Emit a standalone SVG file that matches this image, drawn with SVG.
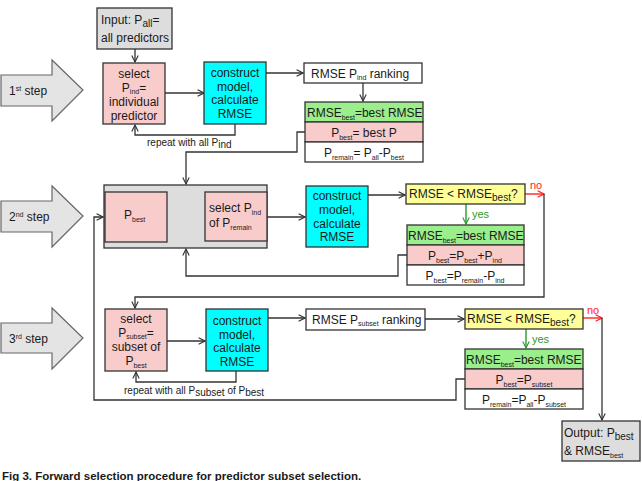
<svg xmlns="http://www.w3.org/2000/svg" width="642" height="481" viewBox="0 0 642 481">
<defs>
<style>
text{font-family:"Liberation Sans",Arial,sans-serif;font-size:12px;fill:#1a1a1a}
.c{text-anchor:middle}
.s{font-size:7px}
.sl{font-size:10px}
.sm{font-size:10px}
.box{stroke:#333;stroke-width:1.3}
.pink{fill:#f9cccc}
.cyan{fill:#00ffff}
.green{fill:#9bee8c}
.yellow{fill:#ffff99}
.grey{fill:#dddddd}
.white{fill:#ffffff}
.big{fill:#e4e4e4;stroke:#666;stroke-width:1.2}
.ln{fill:none;stroke:#333;stroke-width:1.3}
.red{fill:none;stroke:#ff2020;stroke-width:1.4}
.grn{fill:none;stroke:#2a9a2a;stroke-width:1.4}
.lab{font-size:10px}
</style>
<marker id="a" viewBox="0 0 10 10" refX="9" refY="5" markerWidth="8" markerHeight="8" markerUnits="userSpaceOnUse" orient="auto"><path d="M1,1 L9,5 L1,9" fill="none" stroke="#333" stroke-width="1.4"/></marker>
<marker id="ar" viewBox="0 0 10 10" refX="9" refY="5" markerWidth="8" markerHeight="8" markerUnits="userSpaceOnUse" orient="auto"><path d="M1,1 L9,5 L1,9" fill="none" stroke="#ff2020" stroke-width="1.4"/></marker>
<marker id="ag" viewBox="0 0 10 10" refX="9" refY="5" markerWidth="8" markerHeight="8" markerUnits="userSpaceOnUse" orient="auto"><path d="M1,1 L9,5 L1,9" fill="none" stroke="#2a9a2a" stroke-width="1.4"/></marker>
</defs>
<rect width="642" height="481" fill="#ffffff"/>

<!-- step arrows -->
<g id="step1"><polygon class="big" points="1,75 52,75 52,60 83,90 52,121 52,106 1,106"/><text x="9" y="95">1<tspan class="s" dy="-4">st</tspan><tspan dy="4"> step</tspan></text></g>
<g id="step2"><polygon class="big" points="1,201 52,201 52,186 83,216 52,247 52,232 1,232"/><text x="9" y="221">2<tspan class="s" dy="-4">nd</tspan><tspan dy="4"> step</tspan></text></g>
<g id="step3"><polygon class="big" points="1,323 52,323 52,308 83,338 52,369 52,353 1,353"/><text x="9" y="343">3<tspan class="s" dy="-4">rd</tspan><tspan dy="4"> step</tspan></text></g>

<!-- connectors -->
<g id="connectors">
<path class="ln" d="M135,49 V62" marker-end="url(#a)"/>
<path class="ln" d="M165,93 H204" marker-end="url(#a)"/>
<path class="ln" d="M266,73 H303" marker-end="url(#a)"/>
<path class="ln" d="M363,83 V101" marker-end="url(#a)"/>
<path class="ln" d="M235,124 V135 H135 V125" marker-end="url(#a)"/>
<path class="ln" d="M305,132 H297 V152 H186 V184" marker-end="url(#a)"/>
<path class="ln" d="M267,217 H305" marker-end="url(#a)"/>
<path class="ln" d="M368,195 H405" marker-end="url(#a)"/>
<path class="red" d="M525,194 H544" marker-end="url(#ar)"/>
<path class="ln" d="M544,194 V297 H135 V308" marker-end="url(#a)"/>
<path class="grn" d="M466,204 V224" marker-end="url(#ag)"/>
<path class="ln" d="M407,255 H398 V276 H186 V249" marker-end="url(#a)"/>
<path class="ln" d="M465,379 H456 V400 H94 V217 H103" marker-end="url(#a)"/>
<path class="ln" d="M167,341 H205" marker-end="url(#a)"/>
<path class="ln" d="M268,318 H305" marker-end="url(#a)"/>
<path class="ln" d="M425,319 H464" marker-end="url(#a)"/>
<path class="ln" d="M236,371 V382 H136 V372" marker-end="url(#a)"/>
<path class="red" d="M583,318 H602" marker-end="url(#ar)"/>
<path class="ln" d="M602,318 V420" marker-end="url(#a)"/>
<path class="grn" d="M526,329 V348" marker-end="url(#ag)"/>
<text class="lab" x="147" y="146">repeat with all P<tspan class="sm" dy="2">ind</tspan></text>
<text class="lab" x="124" y="394">repeat with all P<tspan class="sm" dy="2">subset</tspan><tspan dy="-2"> of P</tspan><tspan class="sm" dy="2">best</tspan></text>
<text x="530" y="189" style="fill:#ff2020;font-size:11px">no</text>
<text x="472" y="218" style="fill:#2a9a2a;font-size:11px">yes</text>
<text x="587" y="314" style="fill:#ff2020;font-size:11px">no</text>
<text x="532" y="343" style="fill:#2a9a2a;font-size:11px">yes</text>
</g>

<!-- step 1 -->
<g id="input"><rect class="box grey" x="97" y="8" width="75" height="41"/><text x="101" y="24">Input: P<tspan class="sl" dy="3">all</tspan><tspan dy="-3">=</tspan></text><text class="c" x="135" y="42">all predictors</text></g>
<g id="select1"><rect class="box pink" x="103" y="63" width="62" height="61"/>
<text class="c" x="134" y="78">select</text><text class="c" x="134" y="92">P<tspan class="s" dy="2">ind</tspan><tspan dy="-2">=</tspan></text><text class="c" x="134" y="106">individual</text><text class="c" x="134" y="120">predictor</text></g>
<g id="construct1"><rect class="box cyan" x="204" y="62" width="62" height="62"/>
<text class="c" x="235" y="77">construct</text><text class="c" x="235" y="91">model,</text><text class="c" x="235" y="104">calculate</text><text class="c" x="235" y="118">RMSE</text></g>
<g id="ranking1"><rect class="box white" x="304" y="63" width="118" height="20"/><text x="311" y="78">RMSE P<tspan class="s" dy="2">ind</tspan><tspan dy="-2"> ranking</tspan></text></g>
<g id="result1">
<rect class="box green" x="305" y="102" width="118" height="20"/><text x="307" y="117">RMSE<tspan class="s" dy="3">best</tspan><tspan dy="-3">=best RMSE</tspan></text>
<rect class="box pink" x="305" y="122" width="118" height="20"/><text class="c" x="364" y="137">P<tspan class="s" dy="3">best</tspan><tspan dy="-3">= best P</tspan></text>
<rect class="box white" x="305" y="142" width="118" height="20"/><text class="c" x="364" y="157">P<tspan class="s" dy="3">remain</tspan><tspan dy="-3">= P</tspan><tspan class="s" dy="3">all</tspan><tspan dy="-3">-P</tspan><tspan class="s" dy="3">best</tspan></text>
</g>

<!-- step 2 -->
<g id="container2"><rect class="box grey" x="104" y="185" width="163" height="63"/>
<rect class="box pink" x="105" y="192" width="62" height="50"/><text x="124" y="219">P<tspan class="s" dy="3">best</tspan></text>
<rect class="box pink" x="205" y="192" width="62" height="49"/><text x="209" y="212">select P<tspan class="s" dy="3">ind</tspan></text><text x="209" y="227">of P<tspan class="s" dy="3">remain</tspan></text></g>
<g id="construct2"><rect class="box cyan" x="306" y="186" width="62" height="61"/>
<text class="c" x="337" y="200">construct</text><text class="c" x="337" y="214">model,</text><text class="c" x="337" y="228">calculate</text><text class="c" x="337" y="241">RMSE</text></g>
<g id="compare2"><rect class="box yellow" x="406" y="184" width="119" height="20"/><text x="409" y="198">RMSE &lt; RMSE<tspan class="sl" dy="3">best</tspan><tspan dy="-3">?</tspan></text></g>
<g id="result2">
<rect class="box green" x="407" y="225" width="117" height="20"/><text x="408" y="240">RMSE<tspan class="s" dy="3">best</tspan><tspan dy="-3">=best RMSE</tspan></text>
<rect class="box pink" x="407" y="245" width="117" height="20"/><text class="c" x="465" y="260">P<tspan class="s" dy="3">best</tspan><tspan dy="-3">=P</tspan><tspan class="s" dy="3">best</tspan><tspan dy="-3">+P</tspan><tspan class="s" dy="3">ind</tspan></text>
<rect class="box white" x="407" y="265" width="117" height="20"/><text class="c" x="465" y="280">P<tspan class="s" dy="3">best</tspan><tspan dy="-3">=P</tspan><tspan class="s" dy="3">remain</tspan><tspan dy="-3">-P</tspan><tspan class="s" dy="3">ind</tspan></text>
</g>

<!-- step 3 -->
<g id="select3"><rect class="box pink" x="105" y="309" width="62" height="62"/>
<text class="c" x="136" y="323">select</text><text class="c" x="136" y="337">P<tspan class="s" dy="2">subset</tspan><tspan dy="-2">=</tspan></text><text class="c" x="136" y="351">subset of</text><text class="c" x="136" y="365">P<tspan class="s" dy="3">best</tspan></text></g>
<g id="construct3"><rect class="box cyan" x="206" y="309" width="62" height="62"/>
<text class="c" x="237" y="325">construct</text><text class="c" x="237" y="339">model,</text><text class="c" x="237" y="352">calculate</text><text class="c" x="237" y="366">RMSE</text></g>
<g id="ranking3"><rect class="box white" x="306" y="309" width="119" height="21"/><text x="312" y="324">RMSE P<tspan class="s" dy="2">subset</tspan><tspan dy="-2"> ranking</tspan></text></g>
<g id="compare3"><rect class="box yellow" x="465" y="309" width="118" height="20"/><text x="467" y="323">RMSE &lt; RMSE<tspan class="sl" dy="3">best</tspan><tspan dy="-3">?</tspan></text></g>
<g id="result3">
<rect class="box green" x="465" y="349" width="118" height="20"/><text x="466" y="364">RMSE<tspan class="s" dy="3">best</tspan><tspan dy="-3">=best RMSE</tspan></text>
<rect class="box pink" x="465" y="369" width="118" height="20"/><text class="c" x="524" y="384">P<tspan class="s" dy="3">best</tspan><tspan dy="-3">=P</tspan><tspan class="s" dy="3">subset</tspan></text>
<rect class="box white" x="465" y="389" width="118" height="20"/><text class="c" x="524" y="404">P<tspan class="s" dy="3">remain</tspan><tspan dy="-3">=P</tspan><tspan class="s" dy="3">all</tspan><tspan dy="-3">-P</tspan><tspan class="s" dy="3">subset</tspan></text>
</g>
<g id="output"><rect class="box grey" x="562" y="421" width="78" height="40"/><text x="564" y="437">Output: P<tspan class="sl" dy="3">best</tspan></text><text x="564" y="455">&amp; RMSE<tspan class="s" dy="3">best</tspan></text></g>

<text x="2" y="480" style="font-size:11.5px;font-weight:bold">Fig 3. Forward selection procedure for predictor subset selection.</text>
</svg>
